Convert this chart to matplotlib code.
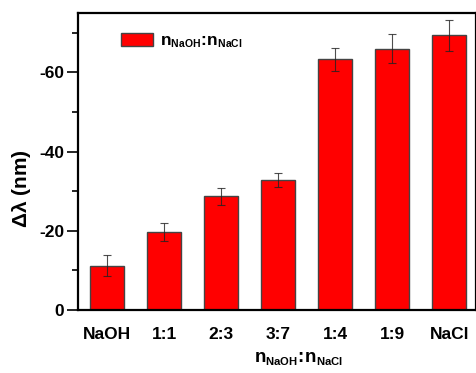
import matplotlib
matplotlib.use("Agg")
import matplotlib.pyplot as plt
import matplotlib._mathtext as _mt
import numpy as np

categories = ["NaOH", "1:1", "2:3", "3:7", "1:4", "1:9", "NaCl"]
shift = [-11.2, -19.7, -28.7, -32.8, -63.3, -66.0, -69.4]
errors = [2.6, 2.2, 2.2, 1.7, 2.9, 3.6, 3.9]
yticks = [0, -20, -40, -60]

_mt.SHRINK_FACTOR = 0.6

plt.rcParams['font.family'] = ['Liberation Sans', 'DejaVu Sans']
plt.rcParams['mathtext.fontset'] = 'custom'
plt.rcParams['mathtext.rm'] = 'Liberation Sans'
plt.rcParams['mathtext.bf'] = 'Liberation Sans:bold'
plt.rcParams['mathtext.it'] = 'Liberation Sans:italic'

fig = plt.figure(figsize=(4.77, 3.73), dpi=100)
ax = fig.add_axes([78/477, 1-310/373, (476-78)/477, (310-13)/373])

x = np.arange(len(categories))
label = r'$\mathbf{n_{NaOH}}\!\mathbf{:}\!\mathbf{n_{NaCl}}$'
ax.bar(x, shift, width=0.6, color='#ff0000', edgecolor='#444444', linewidth=1.0,
       label=label, zorder=2)
ax.errorbar(x, shift, yerr=errors, fmt='none', ecolor='#222222', elinewidth=0.8,
            capsize=3, capthick=0.8, zorder=3, alpha=0.8)

ax.set_xlim(-0.51, 6.47)
ax.set_ylim(0, -75)
ax.set_yticks(yticks)
ax.set_yticklabels([str(v) for v in yticks])
ax.set_yticks([-10, -30, -50, -70], minor=True)
ax.set_xticks(x)
ax.set_xticklabels(categories)

ax.tick_params(axis='y', which='major', direction='out', length=8, width=1.2,
               labelsize=12.5, pad=2)
ax.tick_params(axis='y', which='minor', direction='out', length=4, width=1.2)
ax.tick_params(axis='x', which='both', length=0, labelsize=12.5, pad=12)
for lab in ax.get_xticklabels() + ax.get_yticklabels():
    lab.set_fontweight('bold')

for s in ax.spines.values():
    s.set_linewidth(1.6)

ax.set_ylabel(r'$\mathbf{\Delta\lambda}$ (nm)', fontsize=15, fontweight='bold')
ax.yaxis.set_label_coords(-0.113, 0.41)
ax.set_xlabel(label, fontsize=13.5)
ax.xaxis.set_label_coords(0.555, -0.135)

leg = ax.legend(loc='upper left', frameon=False, fontsize=12.5,
                bbox_to_anchor=(0.07, 0.985), handlelength=1.8, handleheight=0.8,
                handletextpad=0.4)

fig.savefig("out.png", dpi=100)
